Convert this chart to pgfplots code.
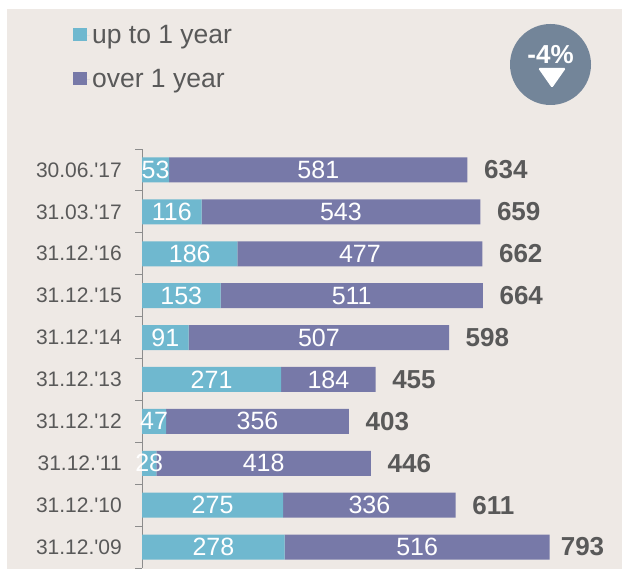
\documentclass[border=0pt]{standalone}
\usepackage{fontspec}
\usepackage{pgfplots}
\usepackage{pgfplotstable}
\pgfplotsset{compat=1.18}
\newfontfamily\lib{Liberation Sans}
\definecolor{bg}{HTML}{EEE9E5}
\definecolor{teal1}{HTML}{6FB8CF}
\definecolor{purp}{HTML}{7779A8}
\definecolor{txt}{HTML}{595959}
\definecolor{badge}{HTML}{738599}
\definecolor{tickgr}{HTML}{8C8C8C}

\pgfplotstableread{
i v
0 53
1 116
2 186
3 153
4 91
5 271
6 47
7 28
8 275
9 278
}\shortterm
\pgfplotstableread{
i v
0 581
1 543
2 477
3 511
4 507
5 184
6 356
7 418
8 336
9 516
}\longterm
% gap = distance in px from the bar's end to its total
\pgfplotstableread{
i z total gap
0 0 634 16.5
1 0 659 16.5
2 0 662 16.5
3 0 664 16.5
4 0 598 16.5
5 0 455 16.5
6 0 403 16.5
7 0 446 16.5
8 0 611 16.5
9 0 793 11
}\totals

\pgfkeys{/pgf/number format/assume math mode=true}

\begin{document}
\begin{tikzpicture}[x=1bp,y=1bp]
\useasboundingbox (0,0) rectangle (622,569);
\fill[bg] (7,0) rectangle (622,560);
\begin{axis}[
    at={(142bp,1bp)}, anchor=south west,
    scale only axis, width=480bp, height=419bp,
    xbar stacked, bar width=25bp,
    stacked ignores zero=false,
    y dir=reverse,
    xmin=0, xmax=935, ymin=-0.5, ymax=9.5,
    axis x line=none, axis y line*=left,
    y axis line style={-, draw=tickgr, line width=1bp},
    ytick={0,...,9},
    yticklabels={30.06.'17,31.03.'17,31.12.'16,31.12.'15,31.12.'14,31.12.'13,31.12.'12,31.12.'11,31.12.'10,31.12.'09},
    major tick length=0pt,
    extra y ticks={-0.5,0.5,1.5,2.5,3.5,4.5,5.5,6.5,7.5,8.5,9.5},
    extra y tick labels={},
    extra tick style={major tick length=7bp, tick align=outside,
        tick style={draw=tickgr, line width=1bp}},
    ytick pos=left,
    yticklabel style={font=\lib\fontsize{21bp}{24bp}\selectfont, text=txt, inner sep=0pt, xshift=-20bp},
    clip=false,
    legend style={at={(axis description cs:-0.144,1.30)}, anchor=north west,
        draw=none, fill=none, inner sep=0pt, row sep=20bp,
        font=\lib\fontsize{26.5bp}{30bp}\selectfont, text=txt},
    legend cell align=left,
    legend image code/.code={\fill[#1] (0bp,-6bp) rectangle (14bp,7bp); \path (0bp,0bp) -- (17bp,0bp);},
]
\addplot[fill=teal1, draw=none,
    visualization depends on={\thisrow{v} \as \val},
    nodes near coords={\pgfmathprintnumber[fixed,precision=0]{\val}},
    every node near coord/.append style={font=\lib\fontsize{25bp}{28bp}\selectfont, text=white, anchor=center, inner sep=0pt},
] table[x=v,y=i] {\shortterm};
\addlegendentry{up to 1 year}
\addplot[fill=purp, draw=none,
    visualization depends on={\thisrow{v} \as \val},
    nodes near coords={\pgfmathprintnumber[fixed,precision=0]{\val}},
    every node near coord/.append style={font=\lib\fontsize{25bp}{28bp}\selectfont, text=white, anchor=center, inner sep=0pt},
] table[x=v,y=i] {\longterm};
\addlegendentry{over 1 year}
\addplot[draw=none, fill=none, forget plot,
    visualization depends on={\thisrow{total} \as \tot},
    visualization depends on={\thisrow{gap} \as \gap},
    nodes near coords={\pgfmathprintnumber[fixed,precision=0]{\tot}},
    every node near coord/.append style={font=\lib\bfseries\fontsize{26bp}{28bp}\selectfont, text=txt, anchor=west, inner sep=0pt, xshift={\gap*1bp}},
] table[x=z,y=i] {\totals};
\end{axis}
\fill[badge] (550.5,504.5) circle (40.5);
\node[font=\lib\bfseries\fontsize{26bp}{28bp}\selectfont, text=white, inner sep=0pt] at (550.5,514.5) {-4\%};
\fill[white, rounded corners=1.5bp] (538,501) -- (566,501) -- (552,481) -- cycle;
\end{tikzpicture}
\end{document}
